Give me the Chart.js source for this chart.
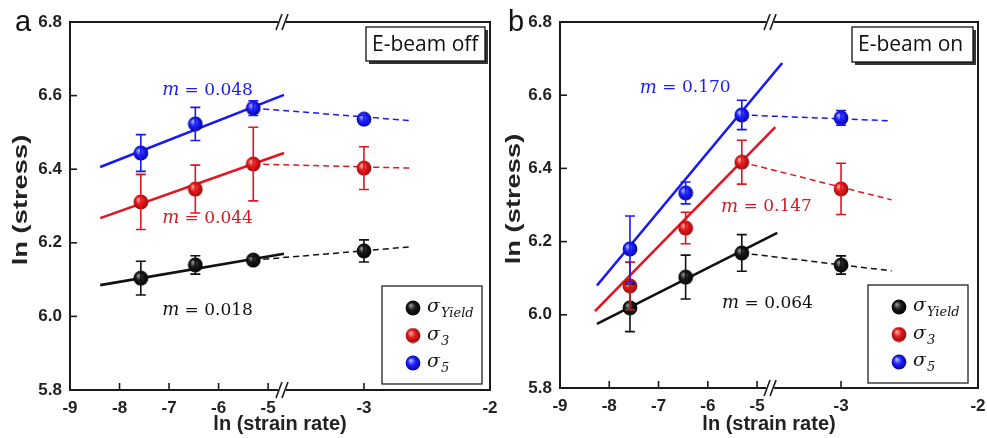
<!DOCTYPE html>
<html><head><meta charset="utf-8">
<script src="https://cdn.jsdelivr.net/npm/chart.js@4.4.1/dist/chart.umd.min.js"></script>
<style>
html,body{margin:0;padding:0;background:#fff;}
body{width:987px;height:438px;position:relative;overflow:hidden;}
#wa{position:absolute;left:0;top:0;width:520px;height:438px;}
#wb{position:absolute;left:493px;top:0;width:494px;height:438px;}
canvas{display:block;}
</style></head><body>
<div id="wa"><canvas id="ca" width="520" height="438"></canvas></div>
<div id="wb"><canvas id="cb" width="494" height="438"></canvas></div>
<script>
// ---------- data ----------
const seriesKeys = ['Yield', '3', '5'];
const xTickLabels = [-9, -8, -7, -6, -5, -3, -2];
const yTickValues = [5.8, 6.0, 6.2, 6.4, 6.6, 6.8];

// panel a : E-beam off
const aStrainRate = [-7.57, -6.47, -5.30, -3.0];
const aYield    = [6.104, 6.140, 6.153, 6.178];
const aYieldErr = [0.046, 0.025, 0.010, 0.030];
const aS3       = [6.311, 6.346, 6.414, 6.403];
const aS3Err    = [0.075, 0.065, 0.100, 0.058];
const aS5       = [6.444, 6.523, 6.566, 6.536];
const aS5Err    = [0.050, 0.045, 0.020, 0.010];
const aYieldFitX = [-8.39, -4.68], aYieldFit = [6.085, 6.170];
const aS3FitX    = [-8.39, -4.68], aS3Fit    = [6.267, 6.444];
const aS5FitX    = [-8.39, -4.68], aS5Fit    = [6.406, 6.602];
const aDashX = [-5.30, -2.63];
const aYieldDash = [6.153, 6.189];
const aS3Dash    = [6.414, 6.403];
const aS5Dash    = [6.566, 6.532];
const aSlopes = ['0.018', '0.044', '0.048'];

// panel b : E-beam on
const bStrainRate = [-7.58, -6.45, -5.31, -3.0];
const bYield    = [6.019, 6.103, 6.169, 6.136];
const bYieldErr = [0.065, 0.060, 0.050, 0.025];
const bS3       = [6.079, 6.237, 6.417, 6.344];
const bS3Err    = [0.065, 0.043, 0.060, 0.070];
const bS5       = [6.180, 6.333, 6.546, 6.538];
const bS5Err    = [0.090, 0.030, 0.040, 0.020];
const bYieldFitX = [-8.25, -4.59], bYieldFit = [5.975, 6.224];
const bS3FitX    = [-8.29, -4.63], bS3Fit    = [6.010, 6.513];
const bS5FitX    = [-8.25, -4.49], bS5Fit    = [6.080, 6.688];
const bDashX = [-5.31, -2.63];
const bYieldDash = [6.169, 6.120];
const bS3Dash    = [6.417, 6.314];
const bS5Dash    = [6.546, 6.530];
const bSlopes = ['0.064', '0.147', '0.170'];

// ---------- styles ----------
const COLORS = [
  {line:'#111111', text:'#111111', hi:'#9a9a9a', mid:'#1a1a1a', lo:'#000000'},
  {line:'#e3141f', text:'#d41a26', hi:'#ffb0a8', mid:'#e51b1b', lo:'#8e0a0a'},
  {line:'#1717ff', text:'#1a1aff', hi:'#b4b8ff', mid:'#1f24ff', lo:'#00008c'}
];
function makeSphere(c){
  const cv=document.createElement('canvas'); cv.width=16; cv.height=16;
  const g=cv.getContext('2d');
  const gr=g.createRadialGradient(5.5,5.2,0.3,8,8,8);
  gr.addColorStop(0,c.hi); gr.addColorStop(0.45,c.mid); gr.addColorStop(1,c.lo);
  g.fillStyle=gr; g.beginPath(); g.arc(8,8,7.4,0,Math.PI*2); g.fill();
  return cv;
}
const SPHERES = COLORS.map(makeSphere);

Chart.defaults.font.family = '"Liberation Sans", Arial, sans-serif';
Chart.defaults.color = '#222';

function buildPanel(canvasId, P){
  const toD = x => x < P.rightStart ? x : P.leftEnd + (x - P.rightStart) * P.k;
  const datasets = [];
  for (let i=0;i<3;i++){
    datasets.push({label:'pts'+i, data:P.x.map((x,j)=>({x:toD(x),y:P.vals[i][j]})),
      showLine:false, pointStyle:SPHERES[i], pointRadius:8, pointHoverRadius:8,
      order:0, errs:P.errs[i], errColor:COLORS[i].line});
    datasets.push({label:'fit'+i, data:P.fitX[i].map((x,j)=>({x:toD(x),y:P.fitY[i][j]})),
      showLine:true, borderColor:COLORS[i].line, borderWidth:2.6, pointRadius:0, order:2});
    datasets.push({label:'dash'+i, data:P.dashX.map((x,j)=>({x:toD(x),y:P.dashY[i][j]})),
      showLine:true, borderColor:COLORS[i].line, borderWidth:1.5, borderDash:[6,4], pointRadius:0, order:1});
  }
  const decor = {
    id:'decor',
    afterDatasetsDraw(chart){
      const ctx=chart.ctx, xs=chart.scales.x, ys=chart.scales.y;
      chart.data.datasets.forEach(ds=>{
        if(!ds.errs) return;
        ctx.save(); ctx.strokeStyle=ds.errColor; ctx.lineWidth=1.6;
        ds.data.forEach((p,j)=>{
          const e=ds.errs[j]; if(!e) return;
          const px=xs.getPixelForValue(p.x), t=ys.getPixelForValue(p.y+e), b=ys.getPixelForValue(p.y-e);
          ctx.beginPath(); ctx.moveTo(px,t); ctx.lineTo(px,b);
          ctx.moveTo(px-5,t); ctx.lineTo(px+5,t); ctx.moveTo(px-5,b); ctx.lineTo(px+5,b); ctx.stroke();
        });
        ctx.restore();
      });
    },
    afterDraw(chart){
      const ctx=chart.ctx, a=chart.chartArea, xs=chart.scales.x, ys=chart.scales.y;
      ctx.save();
      ctx.strokeStyle='#1a1a1a'; ctx.lineWidth=2;
      ctx.strokeRect(a.left,a.top,a.right-a.left,a.bottom-a.top);
      ctx.lineWidth=1.6;
      yTickValues.forEach(v=>{const py=ys.getPixelForValue(v); ctx.beginPath(); ctx.moveTo(a.left,py); ctx.lineTo(a.left+7,py); ctx.stroke();});
      xTickLabels.forEach(v=>{const px=xs.getPixelForValue(toD(v)); ctx.beginPath(); ctx.moveTo(px,a.bottom); ctx.lineTo(px,a.bottom-7); ctx.stroke();});
      // axis break marks
      const bx=xs.getPixelForValue(P.leftEnd)+1;
      [a.top,a.bottom].forEach(yy=>{
        ctx.save(); ctx.fillStyle='#fff'; ctx.fillRect(bx-5,yy-2,8,4); ctx.restore();
        ctx.beginPath();
        for(let s=0;s<2;s++){ ctx.moveTo(bx-7+s*6,yy+8); ctx.lineTo(bx-1+s*6,yy-8); }
        ctx.stroke();
      });
      // y axis title (stretched along its length like the original)
      ctx.save();
      ctx.translate(21,(a.top+a.bottom)/2-6); ctx.rotate(-Math.PI/2); ctx.scale(1.3,1);
      ctx.fillStyle='#222'; ctx.font='bold 21px "Liberation Sans", Arial, sans-serif';
      ctx.textAlign='center'; ctx.textBaseline='middle';
      ctx.fillText('ln (stress)',0,0);
      ctx.restore();
      // panel letter
      ctx.fillStyle='#111'; ctx.font='29px "Liberation Sans", Arial, sans-serif';
      ctx.textAlign='left'; ctx.textBaseline='alphabetic';
      ctx.fillText(P.letter, P.letterX, 31);
      // condition box
      const B=P.box;
      ctx.fillStyle='#333'; ctx.fillRect(B.x+3,B.y+3,B.w,B.h);
      ctx.fillStyle='#fff'; ctx.fillRect(B.x,B.y,B.w,B.h);
      ctx.strokeStyle='#111'; ctx.lineWidth=1.3; ctx.strokeRect(B.x,B.y,B.w,B.h);
      ctx.fillStyle='#111'; ctx.font='21px "Open Sans", sans-serif'; ctx.textBaseline='middle';
      ctx.fillText(P.condition, B.x+6, B.y+B.h/2+1);
      // slope annotations
      P.slopePos.forEach((pos,i)=>{
        const px=xs.getPixelForValue(toD(pos.x)), py=ys.getPixelForValue(pos.y);
        ctx.fillStyle=COLORS[i].text; ctx.textBaseline='middle';
        ctx.font='italic 18px "DejaVu Serif", serif'; ctx.fillText('m',px,py);
        const w=ctx.measureText('m').width;
        ctx.font='17px "DejaVu Serif", serif'; ctx.fillText(' = '+P.slopes[i],px+w,py);
      });
      // legend
      const L=P.legend;
      ctx.strokeStyle='#222'; ctx.lineWidth=1.3; ctx.strokeRect(L.x,L.y,L.w,L.h);
      [0,1,2].forEach(i=>{
        const cy=L.y+22+i*27.5, cx=L.x+31;
        ctx.drawImage(SPHERES[i],cx-8,cy-8);
        ctx.fillStyle='#111'; ctx.textBaseline='alphabetic';
        ctx.font='italic 19px "DejaVu Serif", serif'; ctx.fillText('σ',cx+14,cy+4);
        const w=ctx.measureText('σ').width;
        ctx.font='italic 13px "DejaVu Serif", serif'; ctx.fillText(seriesKeys[i],cx+14+w+1,cy+9);
      });
      ctx.restore();
    }
  };
  return new Chart(document.getElementById(canvasId), {
    type:'scatter',
    data:{datasets},
    options:{
      responsive:false, animation:false, devicePixelRatio:1,
      layout:{padding:{left:0,right:P.padRight,top:22,bottom:0}},
      plugins:{legend:{display:false}, tooltip:{enabled:false}},
      scales:{
        x:{type:'linear', min:-9, max:toD(-2),
          grid:{display:false, drawTicks:false}, border:{display:false},
          afterBuildTicks:s=>{s.ticks=xTickLabels.map(v=>({value:toD(v)}));},
          afterFit:s=>{s.height=P.xAxisH; s.paddingLeft=0; s.paddingRight=0;},
          ticks:{autoSkip:false, maxRotation:0, padding:8, color:'#222',
            font:{size:17, weight:'bold'}, callback:(v,i)=>String(xTickLabels[i])},
          title:{display:true, text:'ln (strain rate)', color:'#222',
            font:{size:20, weight:'bold'}, padding:{top:0,bottom:2}}},
        y:{type:'linear', min:5.8, max:6.8,
          grid:{display:false, drawTicks:false}, border:{display:false},
          afterBuildTicks:s=>{s.ticks=yTickValues.map(v=>({value:v}));},
          afterFit:s=>{s.width=P.yAxisW; s.paddingTop=0; s.paddingBottom=0;},
          ticks:{padding:8, color:'#222', font:{size:17, weight:'bold'}, callback:v=>v.toFixed(1)},
          title:{display:false, text:'ln (stress)'}}
      }
    },
    plugins:[decor]
  });
}

buildPanel('ca', {
  letter:'a', letterX:15, condition:'E-beam off',
  leftEnd:-4.72, rightStart:-3.65, k:2.545,
  yAxisW:70, xAxisH:48, padRight:30,
  x:aStrainRate, vals:[aYield,aS3,aS5], errs:[aYieldErr,aS3Err,aS5Err],
  fitX:[aYieldFitX,aS3FitX,aS5FitX], fitY:[aYieldFit,aS3Fit,aS5Fit],
  dashX:aDashX, dashY:[aYieldDash,aS3Dash,aS5Dash],
  slopes:aSlopes, slopePos:[{x:-7.14,y:6.017},{x:-7.14,y:6.267},{x:-7.14,y:6.615}],
  box:{x:366,y:27,w:119,h:34}, legend:{x:382,y:286,w:100,h:98}
});
buildPanel('cb', {
  letter:'b', letterX:15, condition:'E-beam on',
  leftEnd:-4.736, rightStart:-3.518, k:2.78,
  yAxisW:67, xAxisH:50, padRight:9,
  x:bStrainRate, vals:[bYield,bS3,bS5], errs:[bYieldErr,bS3Err,bS5Err],
  fitX:[bYieldFitX,bS3FitX,bS5FitX], fitY:[bYieldFit,bS3Fit,bS5Fit],
  dashX:bDashX, dashY:[bYieldDash,bS3Dash,bS5Dash],
  slopes:bSlopes, slopePos:[{x:-5.71,y:6.03},{x:-5.73,y:6.295},{x:-7.38,y:6.62}],
  box:{x:359,y:27,w:121,h:35}, legend:{x:375,y:285,w:100,h:98}
});
</script>
</body></html>
